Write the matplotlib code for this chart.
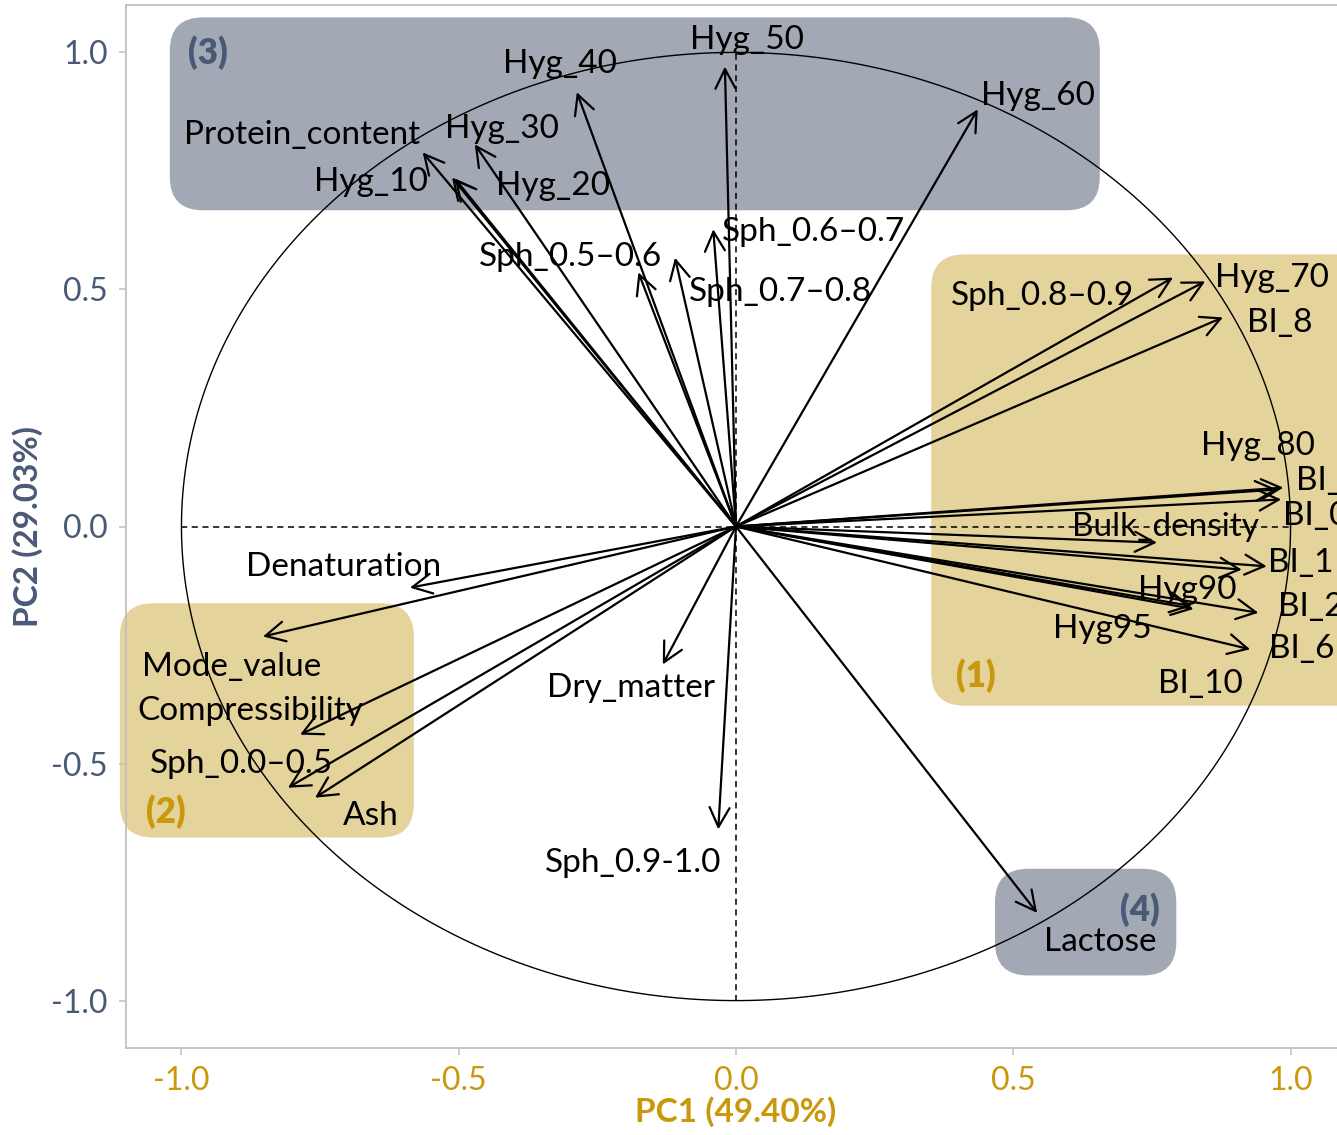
import matplotlib.pyplot as plt
import numpy as np
from matplotlib.patches import FancyArrowPatch, FancyBboxPatch

plt.rcParams["font.family"] = ["Lato", "DejaVu Sans"]
plt.rcParams["axes.unicode_minus"] = False

# variable loadings on PC1 / PC2
variables = [
    "Protein_content", "Hyg_10", "Hyg_20", "Hyg_30", "Hyg_40", "Hyg_50", "Hyg_60",
    "Sph_0.5–0.6", "Sph_0.6–0.7", "Sph_0.7–0.8",
    "Sph_0.8–0.9", "Hyg_70", "BI_8", "Hyg_80", "BI_4", "BI_0", "Bulk_density",
    "BI_1", "BI_10", "Hyg90", "Hyg95", "BI_2", "BI_6",
    "Denaturation", "Mode_value", "Compressibility", "Sph_0.0–0.5", "Ash",
    "Dry_matter", "Sph_0.9-1.0", "Lactose",
]
pc1 = [
    -0.565, -0.512, -0.507, -0.471, -0.287, -0.020, 0.436,
    -0.176, -0.041, -0.110,
    0.788, 0.846, 0.878, 0.987, 0.976, 0.983, 0.759,
    0.957, 0.912, 0.825, 0.822, 0.942, 0.927,
    -0.588, -0.853, -0.786, -0.808, -0.759,
    -0.132, -0.032, 0.543,
]
pc2 = [
    0.789, 0.736, 0.734, 0.806, 0.916, 0.970, 0.880,
    0.536, 0.627, 0.567,
    0.525, 0.517, 0.441, 0.082, 0.078, 0.057, -0.034,
    -0.084, -0.091, -0.174, -0.168, -0.182, -0.259,
    -0.129, -0.232, -0.439, -0.551, -0.572,
    -0.291, -0.639, -0.815,
]

# where each variable name is written (centre of text)
label_xy = {
    "Protein_content": (-0.783, 0.825), "Hyg_10": (-0.658, 0.726),
    "Hyg_20": (-0.330, 0.719), "Hyg_30": (-0.422, 0.838),
    "Hyg_40": (-0.317, 0.975), "Hyg_50": (0.020, 1.027),
    "Hyg_60": (0.545, 0.909), "Sph_0.5–0.6": (-0.298, 0.568),
    "Sph_0.6–0.7": (0.139, 0.622), "Sph_0.7–0.8": (0.081, 0.494),
    "Sph_0.8–0.9": (0.552, 0.487), "Hyg_70": (0.967, 0.525),
    "BI_8": (0.980, 0.430), "Hyg_80": (0.941, 0.169),
    "BI_4": (1.068, 0.095), "BI_0": (1.046, 0.023),
    "Bulk_density": (0.774, 0.0), "BI_1": (1.019, -0.076),
    "Hyg90": (0.813, -0.133), "BI_2": (1.037, -0.169),
    "Hyg95": (0.660, -0.217), "BI_6": (1.021, -0.259),
    "BI_10": (0.837, -0.333), "Denaturation": (-0.707, -0.086),
    "Mode_value": (-0.909, -0.297), "Compressibility": (-0.875, -0.390),
    "Sph_0.0–0.5": (-0.891, -0.500), "Ash": (-0.658, -0.610),
    "Dry_matter": (-0.189, -0.340), "Sph_0.9-1.0": (-0.186, -0.709),
    "Lactose": (0.656, -0.876),
}

# clusters: name, box (x0, y0, x1, y1), tag position, colour key
groups = [
    ("(3)", (-1.021, 0.667, 0.656, 1.074), (-0.952, 1.0), "slate"),
    ("(1)", (0.352, -0.378, 1.25, 0.574), (0.433, -0.314), "gold"),
    ("(2)", (-1.111, -0.656, -0.581, -0.162), (-1.028, -0.601), "gold"),
    ("(4)", (0.467, -0.947, 0.794, -0.722), (0.729, -0.808), "slate"),
]

box_fill = {"slate": "#a2a9b4", "gold": "#e4d39b"}
tag_col = {"slate": "#4a5a76", "gold": "#c9980c"}
SLATE = "#4a5a76"
GOLD = "#c9980c"
FS = 24

fig = plt.figure(figsize=(13.37, 11.35), dpi=100)
ax = fig.add_axes([126 / 1337, 87 / 1135, 1220 / 1337, 1043 / 1135])
ax.set_xlim(-1.1, 1.1)
ax.set_ylim(-1.1, 1.1)

# px per data unit is not the same on x and y, keep the corners round
asp = 554.5 / 474
for tag, (x0, y0, x1, y1), (tx, ty), key in groups:
    pad = 0.06
    box = FancyBboxPatch(
        (x0 + pad, y0 + pad * asp), x1 - x0 - 2 * pad, y1 - y0 - 2 * pad * asp,
        boxstyle=f"round,pad={pad},rounding_size={pad}",
        fc=box_fill[key], ec="none", zorder=0, clip_on=False,
        mutation_aspect=asp,
    )
    ax.add_patch(box)
    ax.text(tx, ty, tag, color=tag_col[key], fontsize=25, fontweight="heavy",
            ha="center", va="center", zorder=3)

# correlation circle and reference lines
t = np.linspace(0, 2 * np.pi, 400)
ax.plot(np.cos(t), np.sin(t), color="black", lw=1.0, zorder=2)
ax.plot([-1, 1], [0, 0], color="black", lw=1.1, ls=(0, (4, 3)), zorder=2)
ax.plot([0, 0], [-1, 1], color="black", lw=1.1, ls=(0, (4, 3)), zorder=2)

for name, x, y in zip(variables, pc1, pc2):
    arr = FancyArrowPatch(
        (0, 0), (x, y), arrowstyle="->,head_length=0.7,head_width=0.36",
        mutation_scale=20, lw=1.6, color="black", shrinkA=0, shrinkB=0, zorder=3,
    )
    ax.add_patch(arr)
    lx, ly = label_xy[name]
    ax.text(lx, ly, name, fontsize=FS, ha="center", va="center",
            color="black", zorder=4, clip_on=False)

for side in ["left", "bottom", "top", "right"]:
    ax.spines[side].set_color("#c0c0c0")
    ax.spines[side].set_linewidth(1.3)
    ax.spines[side].set_zorder(0.5)

ax.set_xticks([-1.0, -0.5, 0.0, 0.5, 1.0])
ax.set_yticks([-1.0, -0.5, 0.0, 0.5, 1.0])
ax.tick_params(axis="both", length=5, width=1.1, color="#c0c0c0", labelsize=23, pad=8)
ax.tick_params(axis="x", labelcolor=GOLD)
ax.tick_params(axis="y", labelcolor=SLATE)
ax.set_xlabel("PC1 (49.40%)", fontsize=FS, fontweight="bold", color=GOLD, labelpad=0)
ax.set_ylabel("PC2 (29.03%)", fontsize=FS, fontweight="bold", color=SLATE, labelpad=6)

fig.savefig("out.png", dpi=100)
